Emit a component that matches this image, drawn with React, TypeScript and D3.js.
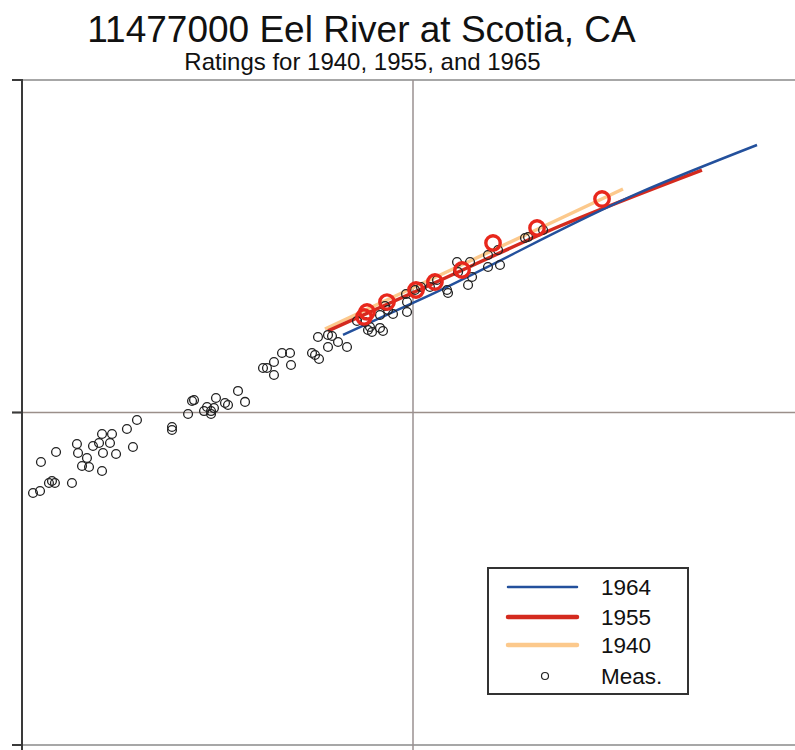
import React from "react";
import * as d3 from "d3";

// Discharge (cfs) and stage (ft) of the field measurements
const measQ = [10670, 11120, 11180, 11720, 11930, 12140, 12220, 13420, 13820, 13910, 14240, 14660, 14840, 15190, 15740, 16020, 16020, 16110, 16790, 16990, 17400, 18550, 19220, 19680,
  24190, 24190, 26590, 27220, 27540, 29210, 29730, 30440, 30440, 30970, 31340, 33050, 33640, 35680, 37190,
  41340, 42320, 44100, 44100, 46240, 48470, 48750, 55170, 56160, 57490, 57150, 60620, 62060, 60620, 64300, 67800,
  71910, 75380, 76720, 77620, 78540, 82330, 83800, 82330, 84790, 86310, 88890, 96540, 96540, 95960, 101200, 104800, 110500, 115200, 122200, 122900,
  129600, 139900, 130400, 141600, 138300, 155500, 165000, 155500, 166900, 193400, 196900, 215100];
const measH = [5.727, 5.806, 7.099, 6.137, 6.223, 6.137, 7.606, 6.137, 8.040, 7.553, 6.905, 7.298, 6.857, 7.930, 8.095, 8.616, 6.669, 7.553, 8.095, 8.616, 7.500, 8.921, 7.875, 9.494,
  9.045, 8.859, 9.897, 10.83, 10.90, 10.10, 10.39, 10.10, 9.897, 10.31, 11.06, 10.68, 10.53, 11.61, 10.76,
  13.61, 13.61, 14.19, 12.97, 15.10, 15.10, 13.90, 15.10, 14.89, 14.48, 16.87, 17.11, 16.99, 15.74, 16.29, 15.74,
  18.85, 18.72, 17.71, 18.08, 17.46, 17.96, 17.59, 19.65, 20.91, 20.34, 19.78, 20.06, 21.49, 22.72, 23.36, 23.85, 23.85, 25.03, 23.36, 22.88,
  28.36, 28.36, 26.46, 25.56, 24.18, 29.77, 30.82, 27.39, 27.77, 33.49, 33.72, 35.40];

// 1940 rating measurements (red circles)
const ratingQ = [74940, 76280, 85800, 101800, 113800, 133500, 160200, 207600, 304400];
const ratingH = [19.38, 20.06, 21.49, 23.36, 24.69, 26.83, 32.35, 35.89, 43.86];

// rating curves
const q1964 = [66220, 110500, 380700, 758300];
const h1964 = [17.11, 22.56, 45.90, 63.75];
const q1955 = [60620, 110500, 237700, 548300];
const h1955 = [17.59, 24.18, 36.38, 53.61];
const q1940 = [59550, 139900, 344400];
const h1940 = [17.83, 28.55, 47.01];

const xTicks = [1e4, 1e5, 1e6];
const yTicks = [1, 10, 100];

const legendItems = ["1964", "1955", "1940", "Meas."];

export default function App() {
  const W = 795, H = 750;
  const x = d3.scaleLog().domain([1e4, 1e6]).range([22, 804]);
  const y = d3.scaleLog().domain([1, 100]).range([745, 80]);
  const line = d3.line<[number, number]>().x(d => x(d[0])).y(d => y(d[1])).curve(d3.curveMonotoneX);
  const zip = (a: number[], b: number[]) => a.map((v, i) => [v, b[i]] as [number, number]);
  const font = "'Liberation Sans', Arial, sans-serif";
  const left = x(1e4);
  const top = y(100);

  const legendX = 488, legendY = 568;
  const legendColors = ["#23509c", "#d42a1e", "#fcc98c"];
  const legendWidths = [2.5, 4.5, 4.5];
  const rowY = [587, 617, 645, 676];

  return (
    <svg width={W} height={H} style={{ position: "absolute", left: 0, top: 0, background: "#fff" }} fontFamily={font}>
      <text x={361.5} y={42} fontSize={37} textAnchor="middle" fill="#111">11477000 Eel River at Scotia, CA</text>
      <text x={362.5} y={70} fontSize={24} textAnchor="middle" fill="#111">Ratings for 1940, 1955, and 1965</text>

      {/* gridlines */}
      {yTicks.map(t => (
        <line key={"gy" + t} x1={12} x2={W} y1={y(t)} y2={y(t)} stroke={t === 10 ? "#9b8f8a" : "#8a8a8a"} strokeWidth={1.5} />
      ))}
      {xTicks.filter(t => t > 1e4 && t < 1e6).map(t => (
        <line key={"gx" + t} x1={x(t)} x2={x(t)} y1={top} y2={H} stroke="#9a9090" strokeWidth={1.5} />
      ))}
      {/* left axis */}
      <line x1={left} x2={left} y1={top - 1} y2={H} stroke="#3a3a3a" strokeWidth={2} />
      {yTicks.map(t => (
        <line key={"ty" + t} x1={12} x2={left} y1={y(t)} y2={y(t)} stroke="#3a3a3a" strokeWidth={2} />
      ))}

      {/* rating curves */}
      <path d={line(zip(q1940, h1940)) || ""} fill="none" stroke="#fcc98c" strokeWidth={3.5} />
      <path d={line(zip(q1955, h1955)) || ""} fill="none" stroke="#d42a1e" strokeWidth={3.5} />
      <path d={line(zip(q1964, h1964)) || ""} fill="none" stroke="#23509c" strokeWidth={2.5} />

      {/* measurements */}
      {measQ.map((q, i) => (
        <circle key={"m" + i} cx={x(q)} cy={y(measH[i])} r={4.4} fill="none" stroke="#222" strokeWidth={1.3} />
      ))}
      {ratingQ.map((q, i) => (
        <circle key={"r" + i} cx={x(q)} cy={y(ratingH[i])} r={7.2} fill="none" stroke="#e8271c" strokeWidth={3.4} />
      ))}

      {/* legend */}
      <rect x={legendX} y={legendY} width={200} height={126} fill="#fff" stroke="#333" strokeWidth={2} />
      {legendItems.map((lab, i) => (
        <g key={lab}>
          {i < 3 ? (
            <line x1={508} x2={577} y1={rowY[i]} y2={rowY[i]} stroke={legendColors[i]} strokeWidth={legendWidths[i]} strokeLinecap="round" />
          ) : (
            <circle cx={545} cy={rowY[i]} r={3.5} fill="none" stroke="#222" strokeWidth={1.2} />
          )}
          <text x={601} y={rowY[i] + 8} fontSize={22.5} fill="#111">{lab}</text>
        </g>
      ))}
    </svg>
  );
}
